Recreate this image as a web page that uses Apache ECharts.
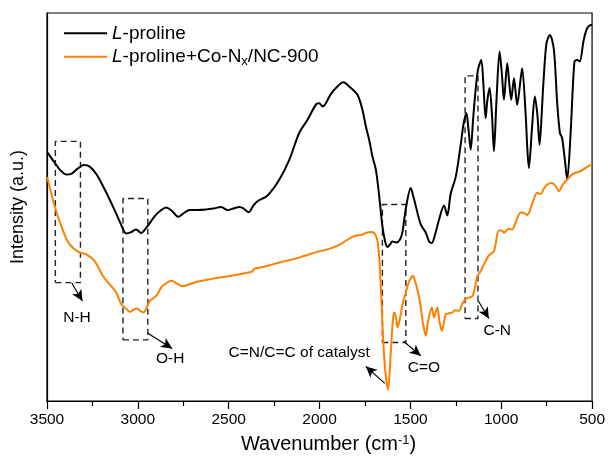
<!DOCTYPE html>
<html>
<head>
<meta charset="utf-8">
<script src="https://cdn.jsdelivr.net/npm/echarts@6/dist/echarts.min.js"></script>
<style>
  html, body { margin: 0; padding: 0; background: #fff; }
  #chart { width: 608px; height: 459px; }
</style>
</head>
<body>
<div id="chart"></div>
<script>
// wavenumber (cm-1) / intensity (a.u.)
var wnProline = [3499,3458,3425,3393,3364,3331,3298,3265,3227,3174,3122,3090,3064,3040,3010,2982,2952,2908,2881,2844,2815,2776,2743,2716,2672,2624,2584,2542,2505,2474,2441,2419,2390,2364,2341,2286,2221,2166,2112,2066,2016,2002,1983,1937,1903,1870,1827,1791,1764,1745,1727,1709,1690,1672,1654,1639,1626,1612,1599,1577,1557,1544,1524,1498,1485,1470,1443,1415,1397,1382,1364,1342,1315,1297,1278,1250,1223,1208,1192,1180,1168,1155,1141,1128,1110,1098,1086,1076,1064,1051,1040,1026,1009,996,985,967,955,945,930,922,912,897,885,866,856,848,830,815,801,789,776,769,751,732,710,692,677,665,650,637,619,597,582,568,546,527,505,500];
var intProline = [249.5,239,231,227,228,233,236.5,235,227,209,189,176,168,169,172,168.5,174,185,190,194,191,184.7,189,191.5,191.5,192,193,194.5,191.3,193,194.5,193,189.3,196,200.3,206,222,242,268.7,282,298,298.5,295.3,308,315,319.5,313.7,307,292,275.3,262,245.3,232,206,175.3,160,154.5,157,160,159,162,169,194,213.5,206,195.3,177,168.7,160,158.5,167,182,196,186,208,225,257,277,288.7,272,252,282,312,332,342,317,283.7,302,313.7,287,250.3,302,350.3,327,302,338.7,317,302,323.7,312,297,317,333.7,288.7,252,233.7,275.3,305.3,287,257,292,315.3,358.7,367,352,298.7,268.7,263.7,242,222,265.3,340.3,342,340.3,362,373.7,377,377];

var wnMix = [3499,3458,3421,3385,3353,3320,3284,3238,3192,3155,3119,3091,3073,3042,3024,3004,2985,2969,2936,2899,2871,2853,2815,2787,2756,2716,2679,2633,2588,2540,2496,2441,2386,2370,2359,2320,2258,2205,2148,2100,2057,2002,1947,1892,1819,1764,1738,1718,1700,1683,1672,1663,1650,1639,1623,1608,1598,1590,1579,1571,1558,1543,1525,1507,1485,1474,1462,1447,1430,1415,1403,1382,1370,1352,1340,1327,1305,1287,1269,1254,1232,1216,1196,1177,1159,1144,1132,1117,1095,1068,1040,1013,996,985,961,940,919,893,875,857,831,802,783,765,747,720,699,683,661,637,610,590,568,536,504,500];
var intMix = [224.7,195.3,175.3,159.5,153,149,147,140.3,125.3,117,108.7,97,94,89.3,91.5,92.7,90,88.7,100,105.3,114,117,120.5,118,115,117,119.3,121,122.7,124,125.3,127,129,130,132.5,134,137,139.5,142,144.5,147,150,152.5,156.5,164.5,167,169,169.5,168.5,162,145.3,115.3,62,32,11.3,48.7,77,88.7,84,73.7,82,97,108.7,120,125.3,120,112,99,77,65.3,80,93.7,83.7,93.7,80,70.3,87,88,88.7,91,90.3,97,102,103.7,105,114,125,129,137,146,150.3,171,171,168.7,172.7,172,180,189,188.5,186.5,197,208.7,207.5,213,217,218.5,215,210.3,217,222,227,229,230,233.7,237,237.5];

var seriesNames = ['L-proline', 'L-proline+Co-Nx/NC-900'];

// dashed boxes: [wn from, wn to, intensity bottom, intensity top]
var boxes = [
  [3454, 3316, 118.7, 260.3],
  [3082, 2945, 61.3, 203],
  [1654, 1525, 58.7, 197],
  [1199, 1128, 82.7, 326]
];

// arrows: [wn start, int start, wn end, int end]
var arrows = [
  [3363, 118, 3305, 100.3],
  [2945, 68, 2811, 52.7],
  [1536, 59.7, 1443, 45.3],
  [1126, 100.3, 1068, 82.7],
  [1641, 17.7, 1745, 34.7]
];

var noteText = ['N-H', 'O-H', 'C=O', 'C-N', 'C=N/C=C of catalyst'];
var noteWn = [3335, 2822, 1425, 1022, 2112];
var noteInt = [83, 42.7, 33.7, 70.3, 48.7];

function zip(a, b) {
  return a.map(function (v, i) { return [v, b[i]]; });
}

var chart = echarts.init(document.getElementById('chart'));

var series = [
  {
    name: seriesNames[0],
    type: 'line',
    data: zip(wnProline, intProline),
    symbol: 'none',
    smooth: 0.3,
    lineStyle: { color: '#000', width: 2 },
    itemStyle: { color: '#000' },
    z: 3
  },
  {
    name: seriesNames[1],
    type: 'line',
    data: zip(wnMix, intMix),
    symbol: 'none',
    smooth: 0.3,
    lineStyle: { color: '#ff8000', width: 2 },
    itemStyle: { color: '#ff8000' },
    z: 3
  }
];

boxes.forEach(function (b, i) {
  series.push({
    name: 'box' + i,
    type: 'line',
    symbol: 'none',
    silent: true,
    data: [[b[0], b[2]], [b[1], b[2]], [b[1], b[3]], [b[0], b[3]], [b[0], b[2]]],
    lineStyle: { color: '#222', width: 1.4, type: [6, 4] },
    z: 2
  });
});

series.push({
  name: 'arrows',
  type: 'line',
  data: [],
  silent: true,
  markLine: {
    silent: true,
    symbol: ['none', 'arrow'],
    symbolSize: [8, 11],
    label: { show: false },
    lineStyle: { color: '#000', width: 1.2, type: 'solid' },
    data: arrows.map(function (a) {
      return [{ coord: [a[0], a[1]] }, { coord: [a[2], a[3]] }];
    })
  }
});

series.push({
  name: 'notes',
  type: 'scatter',
  silent: true,
  symbolSize: 0,
  itemStyle: { opacity: 1 },
  data: noteText.map(function (t, i) {
    return { name: t, value: [noteWn[i], noteInt[i]] };
  }),
  label: {
    show: true,
    position: 'inside',
    formatter: '{b}',
    color: '#000',
    opacity: 1,
    fontFamily: 'Liberation Sans, Arial',
    fontSize: 15.5
  }
});

var option = {
  animation: false,
  backgroundColor: '#fff',
  grid: {
    left: 47, right: 15, top: 13, bottom: 57,
    show: true, borderColor: '#000', borderWidth: 1.2
  },
  legend: {
    data: seriesNames.map(function (n) { return { name: n, icon: 'rect' }; }),
    orient: 'vertical',
    left: 59,
    top: 17.3,
    itemWidth: 43,
    itemHeight: 2,
    itemGap: 1.4,
    selectedMode: false,
    formatter: function (name) {
      return name === seriesNames[0]
        ? '{i|L}{t|-proline}'
        : '{i|L}{t|-proline+Co-N}{sub|x}{t|/NC-900}';
    },
    textStyle: {
      fontFamily: 'Liberation Sans, Arial',
      fontSize: 19,
      color: '#000',
      lineHeight: 22,
      rich: {
        t: { fontSize: 19, lineHeight: 22, fontFamily: 'Liberation Sans, Arial' },
        i: { fontStyle: 'italic', fontSize: 19, lineHeight: 22, fontFamily: 'Liberation Sans, Arial' },
        sub: { fontSize: 13, verticalAlign: 'bottom', lineHeight: 22, fontFamily: 'Liberation Sans, Arial' }
      }
    }
  },
  xAxis: {
    type: 'value',
    inverse: true,
    min: 500,
    max: 3500,
    interval: 500,
    name: 'Wavenumber (cm{sup|-1})',
    nameLocation: 'middle',
    nameGap: 33,
    nameTextStyle: {
      fontFamily: 'Liberation Sans, Arial',
      fontSize: 20,
      color: '#000',
      padding: [0, 0, 0, 18],
      rich: {
        sup: { fontSize: 13, verticalAlign: 'top', lineHeight: 14, fontFamily: 'Liberation Sans, Arial' }
      }
    },
    axisLine: { lineStyle: { color: '#000', width: 1.2 } },
    axisTick: { inside: false, length: 8, lineStyle: { color: '#000', width: 1.2 } },
    minorTick: { show: true, splitNumber: 2, length: 5, lineStyle: { color: '#000', width: 1.2 } },
    axisLabel: {
      color: '#000', fontFamily: 'Liberation Sans, Arial', fontSize: 15.5, margin: 11,
      formatter: function (v) { return String(v); }
    },
    splitLine: { show: false }
  },
  yAxis: {
    type: 'value',
    min: 0,
    max: 389,
    name: 'Intensity (a.u.)',
    nameLocation: 'middle',
    nameGap: 20,
    nameTextStyle: { fontFamily: 'Liberation Sans, Arial', fontSize: 18, color: '#000' },
    axisLine: { show: true, lineStyle: { color: '#000', width: 1.2 } },
    axisTick: { show: false },
    axisLabel: { show: false },
    splitLine: { show: false }
  },
  series: series
};

chart.setOption(option);
</script>
</body>
</html>
